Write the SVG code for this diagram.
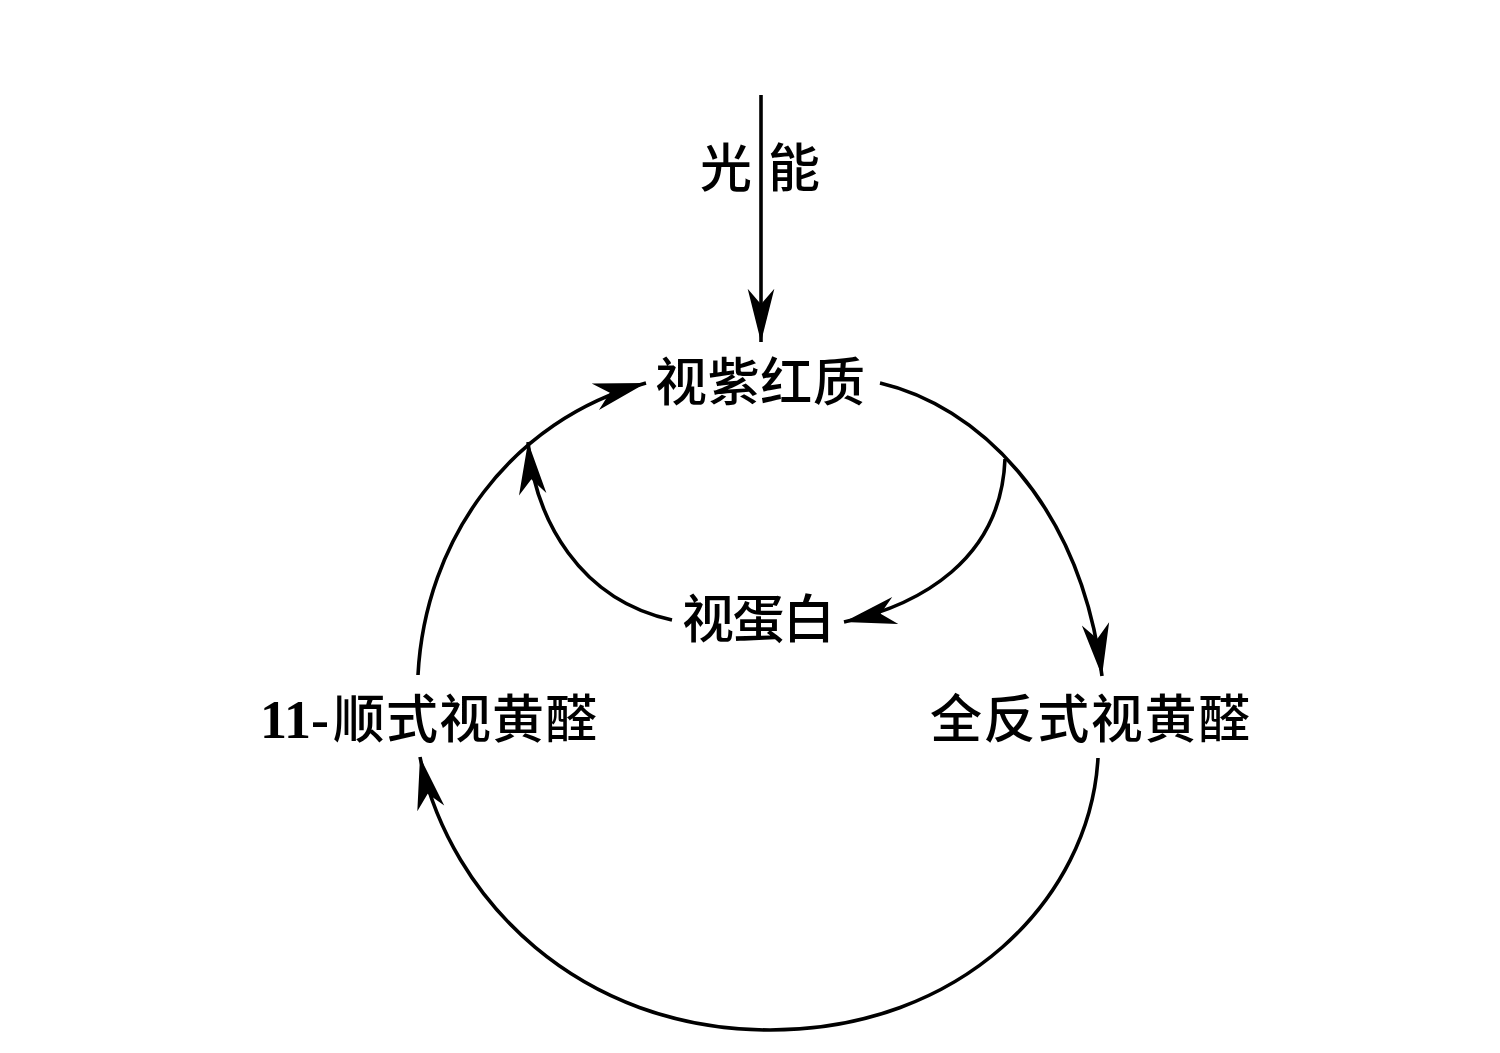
<svg xmlns="http://www.w3.org/2000/svg" width="1500" height="1053" viewBox="0 0 1500 1053">
<style>
.cn{font-family:"Noto Sans CJK SC","Noto Sans CJK TC",sans-serif;font-size:52px;font-weight:500;fill:#000;}
.num{font-family:"Liberation Serif",serif;font-weight:bold;font-size:54px;fill:#000;}
.ln{fill:none;stroke:#000;stroke-width:3.6;}
</style>
<defs>
<marker id="ah" markerUnits="userSpaceOnUse" markerWidth="60" markerHeight="40" viewBox="-44 -14 48 28" refX="0" refY="0" orient="auto">
<path d="M0,0 L-42,-11 L-30,0 L-42,11 Z" fill="#000"/>
</marker>
<marker id="ahs" markerUnits="userSpaceOnUse" markerWidth="60" markerHeight="40" viewBox="-44 -14 48 28" refX="0" refY="0" orient="auto-start-reverse">
<path d="M0,0 L-42,-11 L-30,0 L-42,11 Z" fill="#000"/>
</marker>
<marker id="ahv" markerUnits="userSpaceOnUse" markerWidth="60" markerHeight="40" viewBox="-50 -15 54 30" refX="0" refY="0" orient="auto">
<path d="M0,0 L-48,-12 L-34,0 L-48,12 Z" fill="#000"/>
</marker>
</defs>
<rect width="1500" height="1053" fill="#fff"/>
<g id="connectors">
<line class="ln" x1="761" y1="95" x2="761" y2="342" marker-end="url(#ahv)"/>
<path class="ln" d="M418,675 C425,540 510,420 646,383" marker-end="url(#ah)"/>
<path class="ln" d="M880,383 C975,405 1080,500 1102,676" marker-end="url(#ah)"/>
<path class="ln" d="M1005,459 C1001,560 920,605 844,622" marker-end="url(#ah)"/>
<path class="ln" d="M672,620 C580,600 535,520 528,442" marker-end="url(#ah)"/>
<path class="ln" d="M420,757 C450,900 580,1030 770,1030 C960,1030 1090,900 1098,758" marker-start="url(#ahs)"/>
</g>
<g id="light">
<text class="cn" x="700" y="187">光</text>
<text class="cn" x="768" y="187">能</text>
</g>
<g id="rhodopsin">
<text class="cn" x="655" y="401" textLength="210" lengthAdjust="spacing">视紫红质</text>
</g>
<g id="opsin">
<text class="cn" x="682" y="638" textLength="153" lengthAdjust="spacing">视蛋白</text>
</g>
<g id="cis-retinal">
<text class="num" x="260" y="738">11-</text>
<text class="cn" x="333" y="738" textLength="264" lengthAdjust="spacing">顺式视黄醛</text>
</g>
<g id="trans-retinal">
<text class="cn" x="930" y="738" textLength="320" lengthAdjust="spacing">全反式视黄醛</text>
</g>
</svg>
